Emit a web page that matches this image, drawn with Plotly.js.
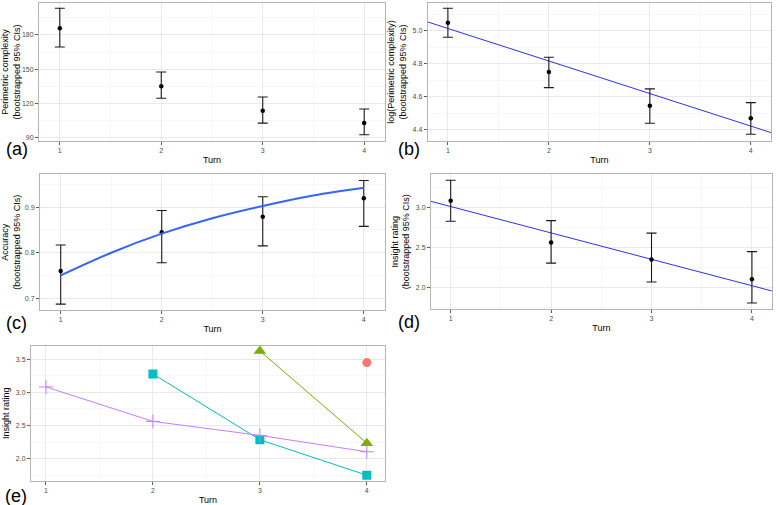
<!DOCTYPE html>
<html>
<head>
<meta charset="utf-8">
<script src="https://cdn.plot.ly/plotly-3.0.1.min.js"></script>
<style>
html,body{margin:0;padding:0;background:#fff;}
#chart{width:776px;height:505px;}
</style>
</head>
<body>
<div id="chart"></div>
<script>
// ---- data ----
const turns = [1, 2, 3, 4];
const tickTurns = ["1", "2", "3", "4"];

// (a) perimetric complexity
const perimMean = [185.9, 135.1, 113.6, 102.8];
const perimLo   = [169.5, 124.6, 102.8, 92.6];
const perimHi   = [203.4, 147.6, 125.6, 115.1];

// (b) log perimetric complexity + linear fit
const logPerimMean = [5.048, 4.750, 4.545, 4.469];
const logPerimLo   = [4.960, 4.655, 4.439, 4.372];
const logPerimHi   = [5.136, 4.839, 4.647, 4.564];
const logFitX = [0.8, 4.2];
const logFitY = [5.053, 4.382];

// (c) accuracy + logistic fit
const accMean = [0.760, 0.845, 0.879, 0.920];
const accLo   = [0.687, 0.778, 0.815, 0.858];
const accHi   = [0.817, 0.893, 0.923, 0.959];
const accFitX = [1, 1.5, 2, 2.5, 3, 3.5, 4];
const accFitY = [0.750, 0.800, 0.842, 0.876, 0.903, 0.926, 0.943];

// (d) insight rating + linear fit
const insMean = [3.082, 2.562, 2.351, 2.104];
const insLo   = [2.826, 2.305, 2.071, 1.810];
const insHi   = [3.336, 2.834, 2.678, 2.448];
const insFitX = [0.8, 4.2];
const insFitY = [3.075, 1.959];

// (e) insight rating by group
const grp1X = [4];          const grp1Y = [3.45];
const grp2X = [3, 4];       const grp2Y = [3.625, 2.234];
const grp3X = [2, 3, 4];    const grp3Y = [3.278, 2.285, 1.75];
const grp4X = [1, 2, 3, 4]; const grp4Y = [3.082, 2.562, 2.351, 2.104];

// ---- helpers ----
const FONT = "Liberation Sans, Arial, Helvetica, sans-serif";
function diff(a, b) { return a.map((v, i) => v - b[i]); }

function errTrace(x, mean, lo, hi, xa, ya) {
  return {
    type: "scatter", mode: "markers", x: x, y: mean, xaxis: xa, yaxis: ya,
    marker: {color: "#000", size: 4.5},
    error_y: {type: "data", symmetric: false, array: diff(hi, mean), arrayminus: diff(mean, lo),
              color: "#1a1a1a", thickness: 1.1, width: 5},
    hoverinfo: "skip", showlegend: false
  };
}

function xAxis(dom, anchor, range) {
  return {
    domain: dom, anchor: anchor, range: range,
    tickmode: "array", tickvals: turns, ticktext: tickTurns,
    ticks: "outside", ticklen: 3, tickcolor: "#333", tickwidth: 0.8,
    tickfont: {family: FONT, size: 7, color: "#4d4d4d"},
    showgrid: true, gridcolor: "#e3e3e3", gridwidth: 0.8,
    minor: {tickvals: [1.5, 2.5, 3.5], showgrid: true, gridcolor: "#f2f2f2", gridwidth: 0.6, ticks: ""},
    showline: true, mirror: true, linecolor: "#b5b5b5", linewidth: 1,
    zeroline: false,
    title: {text: "Turn", font: {family: FONT, size: 9, color: "#000"}, standoff: 3},
    automargin: false
  };
}

function yAxis(dom, anchor, range, dtick, fmt, title) {
  return {
    domain: dom, anchor: anchor, range: range,
    dtick: dtick, tick0: 0, tickformat: fmt,
    ticks: "outside", ticklen: 3, tickcolor: "#333", tickwidth: 0.8,
    tickfont: {family: FONT, size: 7, color: "#4d4d4d"},
    showgrid: true, gridcolor: "#e3e3e3", gridwidth: 0.8,
    minor: {dtick: dtick / 2, tick0: 0, showgrid: true, gridcolor: "#f2f2f2", gridwidth: 0.6, ticks: ""},
    showline: true, mirror: true, linecolor: "#b5b5b5", linewidth: 1,
    zeroline: false,
    title: {text: title, font: {family: FONT, size: 9, color: "#000"}, standoff: 4},
    automargin: false
  };
}

const W = 776, H = 505;
function dx(a, b) { return [a / W, b / W]; }
function dy(top, bot) { return [1 - bot / H, 1 - top / H]; }

const traces = [
  errTrace(turns, perimMean, perimLo, perimHi, "x", "y"),

  {type: "scatter", mode: "lines", x: logFitX, y: logFitY, xaxis: "x2", yaxis: "y2",
   line: {color: "#3030f0", width: 1}, hoverinfo: "skip", showlegend: false},
  errTrace(turns, logPerimMean, logPerimLo, logPerimHi, "x2", "y2"),

  errTrace(turns, accMean, accLo, accHi, "x3", "y3"),
  {type: "scatter", mode: "lines", x: accFitX, y: accFitY, xaxis: "x3", yaxis: "y3",
   line: {color: "#3366FF", width: 2, shape: "spline"}, hoverinfo: "skip", showlegend: false},

  {type: "scatter", mode: "lines", x: insFitX, y: insFitY, xaxis: "x4", yaxis: "y4",
   line: {color: "#3030f0", width: 1}, hoverinfo: "skip", showlegend: false},
  errTrace(turns, insMean, insLo, insHi, "x4", "y4"),

  {type: "scatter", mode: "lines+markers", x: grp1X, y: grp1Y, xaxis: "x5", yaxis: "y5",
   line: {color: "#F8766D", width: 1}, marker: {symbol: "circle", size: 9, color: "#F8766D"},
   showlegend: false},
  {type: "scatter", mode: "lines+markers", x: grp2X, y: grp2Y, xaxis: "x5", yaxis: "y5",
   line: {color: "#7CAE00", width: 1}, marker: {symbol: "triangle-up", size: 11, color: "#7CAE00"},
   showlegend: false},
  {type: "scatter", mode: "lines+markers", x: grp3X, y: grp3Y, xaxis: "x5", yaxis: "y5",
   line: {color: "#00BFC4", width: 1}, marker: {symbol: "square", size: 9, color: "#00BFC4"},
   showlegend: false},
  {type: "scatter", mode: "lines+markers", x: grp4X, y: grp4Y, xaxis: "x5", yaxis: "y5",
   line: {color: "#C77CFF", width: 1},
   marker: {symbol: "cross-thin-open", size: 10, color: "#C77CFF", line: {color: "#C77CFF", width: 1}},
   showlegend: false}
];

const sub = "<br>(bootstrapped 95% CIs)";
const layout = {
  width: W, height: H,
  margin: {l: 0, r: 0, t: 0, b: 0},
  paper_bgcolor: "#fff", plot_bgcolor: "#fff",
  font: {family: FONT},
  showlegend: false,
  xaxis:  xAxis(dx(39, 385),    "y",  [0.795, 4.205]),
  yaxis:  yAxis(dy(3, 141),     "x",  [87.1, 208], 30, "d", "Perimetric complexity" + sub),
  xaxis2: xAxis(dx(427.7, 771), "y2", [0.8, 4.2]),
  yaxis2: yAxis(dy(3, 141),     "x2", [4.331, 5.168], 0.2, ".1f", "log(Perimetric complexity)" + sub),
  xaxis3: xAxis(dx(40, 385),    "y3", [0.795, 4.21]),
  yaxis3: yAxis(dy(174.3, 310), "x3", [0.674, 0.9725], 0.1, ".1f", "Accuracy" + sub),
  xaxis4: xAxis(dx(431, 771.7), "y4", [0.804, 4.197]),
  yaxis4: yAxis(dy(174.3, 309), "x4", [1.735, 3.41], 0.5, ".1f", "Insight rating" + sub),
  xaxis5: xAxis(dx(31, 385),    "y5", [0.86, 4.17]),
  yaxis5: yAxis(dy(346, 480.7), "x5", [1.667, 3.70], 0.5, ".1f", "Insight rating"),
  annotations: [
    ["(a)", 4, 148.5], ["(b)", 396, 148.5], ["(c)", 4, 323], ["(d)", 396, 322], ["(e)", 3, 496]
  ].map(([t, x, y]) => ({
    text: t, xref: "paper", yref: "paper", x: x / W, y: 1 - y / H,
    xanchor: "left", yanchor: "middle", showarrow: false,
    font: {family: FONT, size: 18, color: "#000"}
  }))
};

Plotly.newPlot("chart", traces, layout, {displayModeBar: false, staticPlot: true});
</script>
</body>
</html>
